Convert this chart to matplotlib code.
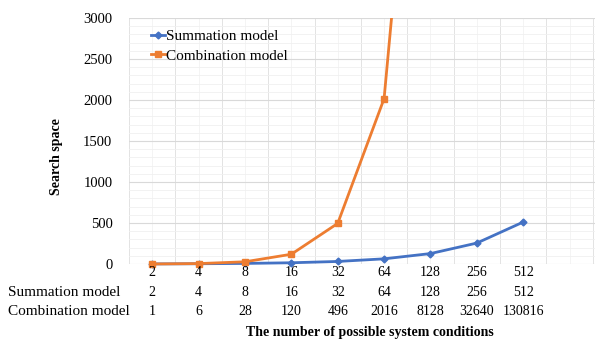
import matplotlib
matplotlib.use("Agg")
import matplotlib.pyplot as plt
import matplotlib.transforms as mtransforms
from matplotlib.patches import Rectangle
import numpy as np

# data
categories = ["2", "4", "8", "16", "32", "64", "128", "256", "512"]
summation = [2, 4, 8, 16, 32, 64, 128, 256, 512]
combination = [1, 6, 28, 120, 496, 2016, 8128, 32640, 130816]
row_labels = ["Summation model", "Combination model"]

BLUE = "#4472C4"
ORANGE = "#ED7D31"

plt.rcParams["font.family"] = ["Liberation Serif", "DejaVu Serif"]

fig = plt.figure(figsize=(5.95, 3.39), dpi=100)
ax = fig.add_axes([0.217, 0.221, 0.783, 0.726])

x = np.arange(len(categories))

# let markers at y=0 show fully, but cut the orange line at the top
clip = Rectangle((0, -0.1), 1, 1.1, transform=ax.transAxes)
l1, = ax.plot(x, summation, color=BLUE, lw=2, marker="D", ms=3.5,
              label="Summation model")
l2, = ax.plot(x, combination, color=ORANGE, lw=2, marker="s", ms=5,
              label="Combination model")
for ln in (l1, l2):
    ln.set_clip_path(clip)

ax.set_xlim(-0.5, 9.55)
ax.set_ylim(0, 3000)
ax.set_yticks(np.arange(0, 3001, 500))
ax.set_yticks(np.arange(0, 3001, 100), minor=True)
ax.set_xticks(np.arange(-0.5, 10, 1.0))
ax.set_xticks(np.arange(0, 10, 1.0), minor=True)
ax.grid(True, which="major", axis="y", color="#d9d9d9", lw=0.8)
ax.grid(True, which="minor", axis="y", color="#f0f0f0", lw=0.6)
ax.grid(True, which="major", axis="x", color="#e3e3e3", lw=0.7)
ax.grid(True, which="minor", axis="x", color="#f3f3f3", lw=0.6)
ax.set_axisbelow(True)
ax.tick_params(axis="both", which="both", length=0)
ax.tick_params(axis="y", labelsize=10.5, pad=12)
ax.set_xticklabels([])
for s in ax.spines.values():
    s.set_visible(False)

ax.set_ylabel("Search space", fontsize=10, fontweight="bold")
ax.yaxis.set_label_coords(-0.142, 0.435)

# table under the chart
trans = mtransforms.blended_transform_factory(ax.transData, fig.transFigure)
rows = [(0.195, None, categories),
        (0.136, row_labels[0], summation),
        (0.080, row_labels[1], combination)]
for yf, lab, vals in rows:
    if lab:
        fig.text(0.013, yf, lab, fontsize=11, ha="left", va="center")
    for xi, v in zip(x, vals):
        ax.text(xi, yf, str(v), transform=trans, fontsize=10,
                ha="center", va="center", clip_on=False)

fig.text(0.622, 0.018, "The number of possible system conditions",
         fontsize=10, fontweight="bold", ha="center", va="center")

leg = ax.legend(loc="upper left", bbox_to_anchor=(0.048, 0.952),
                frameon=False, fontsize=11, handlelength=0.9,
                handletextpad=0.05, labelspacing=0.35, borderaxespad=0,
                borderpad=0)

fig.savefig("out.png", dpi=100)
